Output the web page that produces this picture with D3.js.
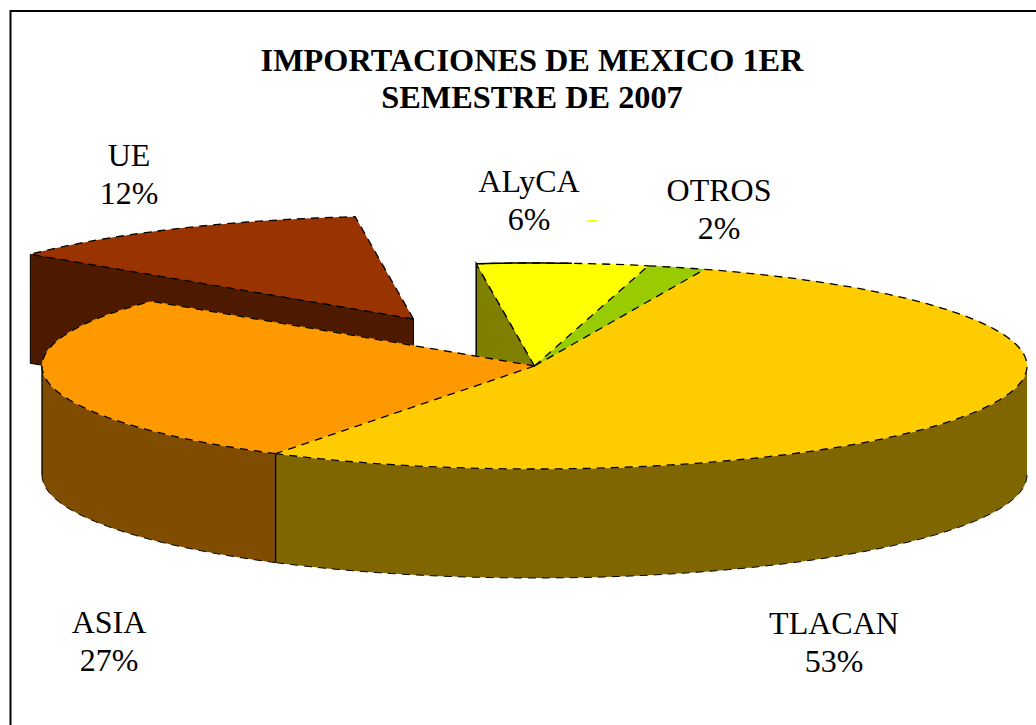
<!DOCTYPE html>
<html><head><meta charset="utf-8">
<script src="https://cdn.jsdelivr.net/npm/d3@7"></script>
<style>html,body{margin:0;padding:0;background:#fff}svg{display:block}text{font-family:"Liberation Serif",serif;fill:#000;text-anchor:middle}</style>
</head><body>
<svg id="c" width="1036" height="725"></svg>
<script>
const categories = ["ALyCA","OTROS","TLACAN","ASIA","UE"];
const values = [5.6,1.9,53.2,27.0,12.3];
const percentLabels = ["6%","2%","53%","27%","12%"];
const topColors = ["#FFFF00","#99CC00","#FFCC00","#FF9900","#993300"];
const sideColors = ["#808000","#4D6600","#806600","#804D00","#4D1A00"];
const titleLines = ["IMPORTACIONES DE MEXICO 1ER","SEMESTRE DE 2007"];
const labelX = [529,719,834,109,129];
const labelY = [192,201,634,633,166];

const W=1036,H=725, cx=534.5, cy=366, rx=492.5, ry=103, depth=109;
const TAU=Math.PI*2, rad=d=>d*Math.PI/180;
const svg=d3.select("#c");
const sx=d3.scaleLinear().domain([-1,1]).range([cx-rx,cx+rx]);
const sy=d3.scaleLinear().domain([-1,1]).range([cy-ry,cy+ry]);
const start=rad(-6.8);
const slices=d3.pie().value(d=>d).sort(null).startAngle(start).endAngle(start+TAU)(values);
const offsets=[[0,0],[0,0],[0,0],[0,0],[-121,-47]];
const pt=(a,o,z=0)=>[sx(Math.sin(a))+o[0], sy(-Math.cos(a))+o[1]+z];
const arcPts=(a0,a1,o,z=0)=>{const n=Math.max(2,Math.ceil(Math.abs(a1-a0)/rad(1.5)));return d3.range(n+1).map(i=>pt(a0+(a1-a0)*i/n,o,z));};
const line=d3.line();
const ctr=(o,z=0)=>[cx+o[0],cy+o[1]+z];
const g=svg.append("g");

// frame
svg.append("path").attr("d",line([[10.5,H],[10.5,11],[W,11]])).attr("fill","none").attr("stroke","#000").attr("stroke-width",2);

const dash="8 6";
const rim=(pts,w=1.3)=>g.append("path").attr("d",line(pts)).attr("fill","none").attr("stroke","#000").attr("stroke-width",w).attr("stroke-dasharray",dash);
// UE exploded: radial wall
{const s=slices[4],o=offsets[4],c=sideColors[4];
 const p=pt(s.startAngle,o);
 g.append("path").attr("d",line([p,ctr(o),ctr(o,depth),pt(s.startAngle,o,depth)])+"Z").attr("fill",c).attr("stroke","#000").attr("stroke-width",1);
 const top=[ctr(o),...arcPts(s.startAngle,s.endAngle,o)];
 g.append("path").attr("d",line(top)+"Z").attr("fill",topColors[4]);
 rim(top.concat([ctr(o)]));
}
// ALyCA start radial wall
{const s=slices[0],o=offsets[0];
 g.append("path").attr("d",line([pt(s.startAngle,o),ctr(o),ctr(o,depth),pt(s.startAngle,o,depth)])+"Z").attr("fill",sideColors[0]).attr("stroke","#000").attr("stroke-width",1.5);
}
// outer walls, front half only
[2,3].forEach(i=>{const s=slices[i],o=offsets[i];
 const a0=Math.max(s.startAngle,Math.PI/2), a1=Math.min(s.endAngle,Math.PI*1.5);
 const pts=[...arcPts(a0,a1,o),...arcPts(a1,a0,o,depth)];
 g.append("path").attr("d",line(pts)+"Z").attr("fill",sideColors[i]);
 rim(arcPts(a0,a1,o,depth),1);
});
// wall edges: slice boundary and left silhouette
g.append("path").attr("d",line([pt(slices[2].endAngle,[0,0]),pt(slices[2].endAngle,[0,0],depth)])).attr("stroke","#000").attr("stroke-width",1.3);
g.append("path").attr("d",line([pt(Math.PI*1.5,[0,0]),pt(Math.PI*1.5,[0,0],depth)])).attr("stroke","#000").attr("stroke-width",1.3);
// tops
[3,2,1,0].forEach(i=>{const s=slices[i],o=offsets[i];
 const top=[ctr(o),...arcPts(s.startAngle,s.endAngle,o)];
 g.append("path").attr("d",line(top)+"Z").attr("fill",topColors[i]).attr("stroke",topColors[i]).attr("stroke-width",0.5);
});
// rims and radial edges, each drawn once
[0,1,2,3].forEach(i=>{const s=slices[i],o=offsets[i];
 rim(arcPts(s.startAngle,s.endAngle,o));
 rim([ctr(o),pt(s.endAngle,o)]);
});
rim([ctr(offsets[0]),pt(slices[0].startAngle,offsets[0])]);
// solid back rim over ALyCA, as in the picture
{const s=slices[0];
 g.append("path").attr("d",line(arcPts(s.startAngle,s.endAngle-rad(9),offsets[0]))).attr("fill","none").attr("stroke","#000").attr("stroke-width",1.5);
}
// small leftover legend key
svg.append("rect").attr("x",587).attr("y",220).attr("width",10).attr("height",2).attr("fill","#FFFF00");

// title
titleLines.forEach((t,i)=>svg.append("text").attr("x",532).attr("y",71+i*37).attr("font-size",32.3).attr("font-weight","bold").text(t));
// labels
categories.forEach((c,i)=>{
 svg.append("text").attr("x",labelX[i]).attr("y",labelY[i]).attr("font-size",32).text(c);
 svg.append("text").attr("x",labelX[i]).attr("y",labelY[i]+38).attr("font-size",32).text(percentLabels[i]);
});
</script>
</body></html>
